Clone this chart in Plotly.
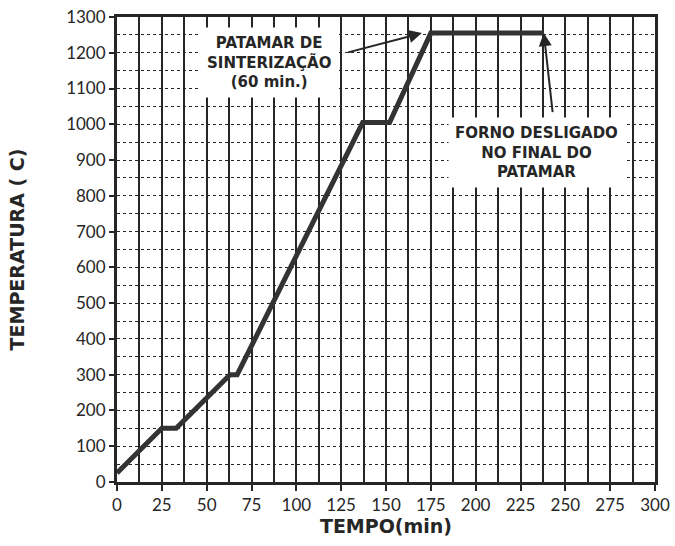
import plotly.graph_objects as go

# Data
tempo = [0, 25, 33, 63, 67, 137, 152, 175, 238]
temperatura = [25, 150, 150, 300, 300, 1005, 1005, 1255, 1255]

x_ticks = [0, 25, 50, 75, 100, 125, 150, 175, 200, 225, 250, 275, 300]
y_ticks = [0, 100, 200, 300, 400, 500, 600, 700, 800, 900, 1000, 1100, 1200, 1300]

ink = "#262626"
font_family = "Lato, 'DejaVu Sans', sans-serif"
note_font = "'DejaVu Sans', sans-serif"

fig = go.Figure()
fig.add_trace(go.Scatter(
    x=tempo, y=temperatura, mode="lines",
    line=dict(color="#333333", width=5),
    showlegend=False, hoverinfo="skip",
))

fig.update_xaxes(
    range=[0, 300], tickvals=x_ticks, ticktext=[str(v) for v in x_ticks],
    showgrid=True, gridcolor=ink, gridwidth=1.6,
    minor=dict(dtick=12.5, tick0=0, showgrid=True, gridcolor=ink, gridwidth=1.6),
    showline=True, linecolor=ink, linewidth=3, mirror=True,
    ticks="outside", ticklen=6, tickwidth=2, tickcolor=ink,
    tickfont=dict(family=font_family, size=17, color=ink),
    ticklabeloverflow="allow",
    title=dict(text="<b>TEMPO(min)</b>", font=dict(family=note_font, size=19, color=ink), standoff=5),
    zeroline=False, automargin=False,
)
fig.update_yaxes(
    range=[0, 1300], tickvals=y_ticks, ticktext=[str(v) for v in y_ticks],
    showgrid=True, gridcolor=ink, gridwidth=1.2, griddash="dot",
    minor=dict(dtick=50, tick0=0, showgrid=True, gridcolor=ink, gridwidth=1.2, griddash="dot"),
    showline=True, linecolor=ink, linewidth=3, mirror=True,
    ticks="outside", ticklen=5, tickwidth=2, tickcolor=ink,
    tickfont=dict(family=font_family, size=17, color=ink),
    ticklabeloverflow="allow",
    title=dict(text="<b>TEMPERATURA ( C)</b>", font=dict(family=note_font, size=19, color=ink), standoff=37),
    zeroline=False, automargin=False,
)

# Text boxes
fig.add_annotation(
    x=85, y=1172, xref="x", yref="y", showarrow=False,
    text="<b>PATAMAR DE<br>SINTERIZAÇÃO<br>(60 min.)</b>",
    font=dict(family=note_font, size=15, color=ink),
    bgcolor="white", borderpad=6, align="center",
)
fig.add_annotation(
    x=234, y=921, xref="x", yref="y", showarrow=False,
    text="<b>FORNO DESLIGADO<br>NO FINAL DO<br>PATAMAR</b>",
    font=dict(family=note_font, size=15, color=ink),
    bgcolor="white", borderpad=6, align="center",
)
# Arrows
fig.add_annotation(
    x=170, y=1255, ax=128, ay=1200, xref="x", yref="y", axref="x", ayref="y",
    text="", showarrow=True, arrowhead=2, arrowsize=1.3, arrowwidth=2, arrowcolor=ink,
)
fig.add_annotation(
    x=238, y=1255, ax=243, ay=1030, xref="x", yref="y", axref="x", ayref="y",
    text="", showarrow=True, arrowhead=2, arrowsize=1.3, arrowwidth=2, arrowcolor=ink,
)

fig.update_layout(
    width=675, height=546,
    margin=dict(l=117, r=20, t=17, b=64),
    paper_bgcolor="white", plot_bgcolor="white",
    showlegend=False,
)

# Remove the default body margin so the figure fills the window exactly
fig.write_html("out.html", config={"displayModeBar": False},
               post_script="document.body.style.margin='0';")
